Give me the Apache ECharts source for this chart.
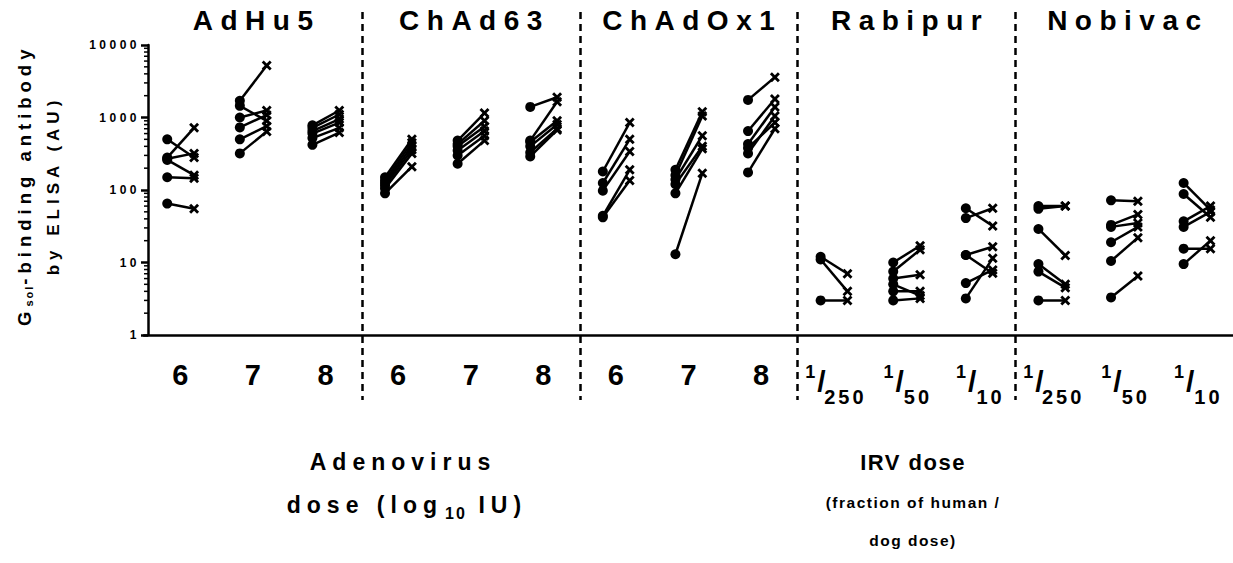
<!DOCTYPE html>
<html><head><meta charset="utf-8">
<script src="https://cdn.jsdelivr.net/npm/echarts@6/dist/echarts.min.js"></script>
<style>html,body{margin:0;padding:0;background:#fff}#chart{width:1233px;height:563px}</style>
</head><body><div id="chart"></div>
<script>
// ---------- data ----------
const categories = ['6','7','8','6','7','8','6','7','8','1/250','1/50','1/10','1/250','1/50','1/10'];
const groupNames = ['AdHu5','ChAd63','ChAdOx1','Rabipur','Nobivac'];
const adenoTitle = ['Adenovirus', 'dose (log', '10', ' IU)'];
const irvTitle = ['IRV dose', '(fraction of human /', 'dog dose)'];
const yNameParts = ['G', 'sol', '-binding antibody', 'by ELISA (AU)'];
const minorTickValues = [2,3,4,5,6,7,8,9,20,30,40,50,60,70,80,90,200,300,400,500,600,700,800,900,2000,3000,4000,5000,6000,7000,8000,9000];

// pre (circle) and post (cross) values, one inner list per dose
const adhu5Pre   = [[500, 280, 270, 260, 150, 65], [1700, 1450, 1000, 730, 500, 320], [780, 720, 650, 600, 520, 420]];
const adhu5Post  = [[280, 720, 320, 160, 145, 55], [5200, 900, 1250, 1080, 760, 640], [1250, 1100, 950, 850, 720, 620]];
const chad63Pre  = [[150, 135, 125, 115, 105, 90], [480, 430, 400, 350, 300, 230], [1400, 480, 460, 400, 330, 290]];
const chad63Post = [[500, 450, 400, 360, 320, 210], [1150, 900, 750, 650, 560, 480], [1900, 1650, 900, 800, 700, 670]];
const chadox1Pre  = [[180, 125, 98, 44, 42], [190, 160, 140, 120, 90, 13], [1750, 650, 430, 380, 320, 175]];
const chadox1Post = [[850, 500, 340, 190, 135], [1200, 1050, 560, 400, 370, 170], [3600, 1800, 1400, 850, 1050, 700]];
const rabipurPre  = [[12, 11, 3], [10, 7.5, 6, 5, 4, 3], [56, 41, 12.7, 12.7, 5.2, 3.2]];
const rabipurPost = [[7, 4, 3], [17, 15, 6.8, 3.5, 4, 3.2], [32, 56, 16.5, 7.1, 7.9, 11.4]];
const nobivacPre  = [[60, 55, 29, 9.5, 7.5, 3], [72, 33, 31, 19, 10.5, 3.3], [125, 88, 37, 31, 15.5, 9.5]];
const nobivacPost = [[60, 60, 12.5, 5, 4.5, 3], [70, 46, 35, 31, 22, 6.5], [53, 42, 60, 50, 15.5, 20]];

const preGroups  = [adhu5Pre, chad63Pre, chadox1Pre, rabipurPre, nobivacPre];
const postGroups = [adhu5Post, chad63Post, chadox1Post, rabipurPost, nobivacPost];

// ---------- styling ----------
const FONT = '"Liberation Sans", Arial, Helvetica, sans-serif';
const CROSS = 'path://M2,0L5,3L8,0L10,2L7,5L10,8L8,10L5,7L2,10L0,8L3,5L0,2Z';
// letter spacing keyed by font size (applied to the SVG text after render)
const SPACING = {'28': 7.5, '23': 6, '22': 1.5, '20': 3, '18.5': 5, '17': 5, '16': 2, '15.5': 1.5, '12': 3.5, '11': 2};

const chart = echarts.init(document.getElementById('chart'), null, {renderer: 'svg'});

const series = [];
preGroups.forEach((grp, g) => grp.forEach((preArr, d) => {
  const k = g * 3 + d;
  preArr.forEach((pre, i) => {
    series.push({
      type: 'line', xAxisIndex: 1, yAxisIndex: 0, silent: true, animation: false,
      lineStyle: {color: '#000', width: 2.5}, itemStyle: {color: '#000'},
      data: [
        {value: [k - 0.18, pre], symbol: 'circle', symbolSize: 10},
        {value: [k + 0.19, postGroups[g][d][i]], symbol: CROSS, symbolSize: 10}
      ]
    });
  });
}));
series.push({
  type: 'custom', xAxisIndex: 1, yAxisIndex: 0, silent: true, clip: false, animation: false,
  data: minorTickValues.map(v => [0, v]),
  renderItem(params, api) {
    const y = api.coord([0, api.value(1)])[1];
    const x = params.coordSys.x + 4;
    return {type: 'line', shape: {x1: x - 4, y1: y, x2: x, y2: y}, style: {stroke: '#000', lineWidth: 1.5}};
  }
});

chart.setOption({
  animation: false,
  backgroundColor: '#fff',
  textStyle: {fontFamily: FONT},
  grid: {left: 144, right: 0, top: 45, bottom: 228, containLabel: false},
  xAxis: [{
    type: 'category', data: categories, boundaryGap: true,
    axisLine: {lineStyle: {color: '#000', width: 2.5}},
    axisTick: {alignWithLabel: true, length: 6, lineStyle: {color: '#000', width: 2.5}},
    axisLabel: {
      interval: 0, margin: 20, color: '#000', fontFamily: FONT,
      formatter: v => {
        if (v.indexOf('/') < 0) return '{d|' + v + '}';
        const p = v.split('/');
        return '{sup|' + p[0] + '}{sl|/}{sub|' + p[1] + '}';
      },
      rich: {
        d: {fontSize: 29, fontWeight: 'bold', fontFamily: FONT, lineHeight: 40, verticalAlign: 'middle'},
        sup: {fontSize: 18, fontWeight: 'bold', fontFamily: FONT, verticalAlign: 'top', lineHeight: 20, padding: [8, 2, 0, 0]},
        sl: {fontSize: 30, fontWeight: 'bold', fontFamily: FONT, lineHeight: 52, verticalAlign: 'middle', padding: [0, 3, 0, 0]},
        sub: {fontSize: 20, fontWeight: 'bold', fontFamily: FONT, verticalAlign: 'bottom', lineHeight: 20}
      }
    },
    splitLine: {show: false}
  }, {
    type: 'value', min: -0.5, max: 14.5, show: false
  }],
  yAxis: [{
    type: 'log', logBase: 10, min: 1, max: 10000, offset: -4,
    axisLine: {show: true, onZero: false, lineStyle: {color: '#000', width: 2.5}},
    axisTick: {show: true, length: 7, lineStyle: {color: '#000', width: 2.5}},
    axisLabel: {color: '#000', fontSize: 12, fontWeight: 'bold', fontFamily: FONT, margin: 8,
      formatter: v => String(v)},
    splitLine: {show: false}
  }],
  series: series
});

// ---------- annotations placed through the axis scales ----------
const px = v => chart.convertToPixel({xAxisIndex: 1}, v);
const graphics = [];
function txt(x, y, text, size, align, extra) {
  return Object.assign({type: 'text', silent: true, x: x, y: y,
    style: {text: text, fill: '#000', font: 'bold ' + size + 'px ' + FONT, textAlign: align || 'center', textVerticalAlign: 'middle'}}, extra || {});
}
[2.5, 5.5, 8.5, 11.5].forEach(b => {
  const x = Math.round(px(b)) + 0.5;
  graphics.push({type: 'line', silent: true, shape: {x1: x, y1: 12, x2: x, y2: 400},
    style: {stroke: '#000', lineWidth: 2.5, lineDash: [7, 5]}});
});
groupNames.forEach((name, g) => {
  graphics.push(txt(px(g * 3 + 1) + SPACING['28'] / 2, 20, name, 28));
});
// bottom group titles
graphics.push(txt(400 + 3, 462, adenoTitle[0], 23));
graphics.push(txt(443, 505, adenoTitle[1], 23, 'right'));
graphics.push(txt(445, 513, adenoTitle[2], 16, 'left'));
graphics.push(txt(466, 505, adenoTitle[3], 23, 'left'));
graphics.push(txt(912 + 1, 462, irvTitle[0], 22));
graphics.push(txt(912 + 1, 502, irvTitle[1], 15.5));
graphics.push(txt(912 + 1, 540, irvTitle[2], 15.5));
// y axis name (two rotated lines, reading upward)
const rot = {rotation: Math.PI / 2};
graphics.push(txt(24, 326, yNameParts[0], 18.5, 'left', rot));
graphics.push(txt(29, 306.6, yNameParts[1], 11, 'left', rot));
graphics.push(txt(24, 284.7, yNameParts[2], 18.5, 'left', rot));
graphics.push(txt(53, 188 - 2.5, yNameParts[3], 17, 'center', rot));

chart.setOption({graphic: graphics});

function applySpacing() {
  document.querySelectorAll('#chart svg text').forEach(t => {
    const fs = String(parseFloat(getComputedStyle(t).fontSize));
    const s = SPACING[fs];
    if (s) t.style.letterSpacing = s + 'px';
  });
}
applySpacing();
chart.on('finished', applySpacing);
</script></body></html>
